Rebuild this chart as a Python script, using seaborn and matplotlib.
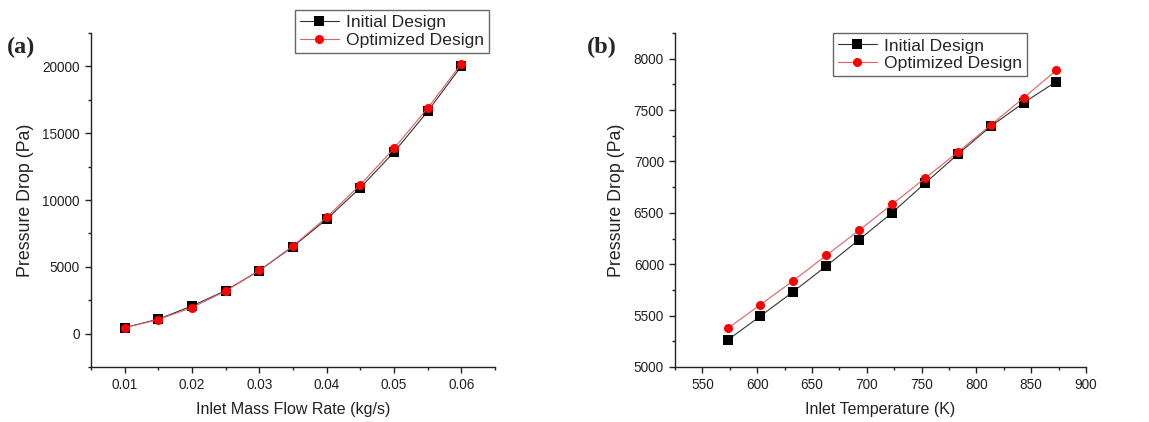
import pandas as pd
import matplotlib
matplotlib.use('Agg')
import matplotlib.pyplot as plt
from matplotlib.ticker import MultipleLocator
import seaborn as sns

# data
mass_flow = [0.010, 0.015, 0.020, 0.025, 0.030, 0.035, 0.040, 0.045, 0.050, 0.055, 0.060]
dp_flow_initial = [450, 1080, 2070, 3220, 4720, 6510, 8570, 10920, 13580, 16630, 20020]
dp_flow_optimized = [440, 1050, 1950, 3180, 4730, 6560, 8710, 11150, 13860, 16880, 20190]

inlet_temp = [573, 603, 633, 663, 693, 723, 753, 783, 813, 843, 873]
dp_temp_initial = [5262, 5496, 5734, 5982, 6239, 6500, 6787, 7070, 7341, 7570, 7778]
dp_temp_optimized = [5375, 5607, 5841, 6086, 6331, 6582, 6836, 7090, 7354, 7618, 7889]

series_names = ['Initial Design', 'Optimized Design']

#build long-form tables
df_flow = pd.DataFrame({
    'x': mass_flow + mass_flow,
    'y': dp_flow_initial + dp_flow_optimized,
    'Design': [series_names[0]] * len(mass_flow) + [series_names[1]] * len(mass_flow),
})
df_temp = pd.DataFrame({
    'x': inlet_temp + inlet_temp,
    'y': dp_temp_initial + dp_temp_optimized,
    'Design': [series_names[0]] * len(inlet_temp) + [series_names[1]] * len(inlet_temp),
})

sns.set_style("ticks")
plt.rcParams['font.family'] = ['Liberation Sans', 'DejaVu Sans']
plt.rcParams['xtick.major.size'] = 4.5
plt.rcParams['ytick.major.size'] = 4.5
plt.rcParams['xtick.minor.size'] = 2.5
plt.rcParams['ytick.minor.size'] = 2.5
plt.rcParams['xtick.minor.visible'] = True
plt.rcParams['ytick.minor.visible'] = True

palette = {'Initial Design': 'black', 'Optimized Design': '#ff0000'}
markers = {'Initial Design': 's', 'Optimized Design': 'o'}
line_colors = {'Initial Design': '#333333', 'Optimized Design': '#e06060'}

fig = plt.figure(figsize=(11.49, 4.22), dpi=100)
ax1 = fig.add_axes([91 / 1149, 55 / 422, 404 / 1149, 334 / 422])
ax2 = fig.add_axes([675 / 1149, 55 / 422, 411 / 1149, 334 / 422])


def draw(ax, df, xlabel, xlim, ylim, xmaj, xmin, ymaj, ymin, leg_anchor, xfmt=None):
    sns.lineplot(data=df, x='x', y='y', hue='Design', style='Design', palette=palette,
                 markers=markers, dashes=False, linewidth=0.8, markersize=6.5,
                 markeredgewidth=0, ax=ax)
    for line, name in zip(ax.lines, series_names):
        line.set_markerfacecolor(palette[name])
        line.set_markeredgecolor(palette[name])
        line.set_color(line_colors[name])
    ax.set_xlim(xlim)
    ax.set_ylim(ylim)
    ax.xaxis.set_major_locator(MultipleLocator(xmaj))
    ax.xaxis.set_minor_locator(MultipleLocator(xmin))
    ax.yaxis.set_major_locator(MultipleLocator(ymaj))
    ax.yaxis.set_minor_locator(MultipleLocator(ymin))
    if xfmt:
        ax.xaxis.set_major_formatter(xfmt)
    ax.set_xlabel(xlabel, fontsize=11.5, color='#222222', labelpad=7)
    ax.set_ylabel('Pressure Drop (Pa)', fontsize=12.8, color='#222222', labelpad=6)
    ax.tick_params(axis='both', which='both', labelsize=9.8, colors='#222222', width=1)
    sns.despine(ax=ax)
    for sp in ['left', 'bottom']:
        ax.spines[sp].set_linewidth(1)
        ax.spines[sp].set_color('#222222')
    handles, labels = ax.get_legend_handles_labels()
    for h, name in zip(handles, series_names):
        h.set_markerfacecolor(palette[name])
        h.set_markeredgecolor(palette[name])
        h.set_color(line_colors[name])
        h.set_linewidth(0.8)
    leg = ax.legend(handles, labels, loc='upper right', bbox_to_anchor=leg_anchor,
                    fontsize=12.6, frameon=True, fancybox=False, framealpha=1,
                    edgecolor='#666666', handlelength=2.2, handletextpad=0.4,
                    borderpad=0.3, labelspacing=0.12, borderaxespad=0)
    leg.get_frame().set_linewidth(1)
    leg.set_clip_on(False)


draw(ax1, df_flow, 'Inlet Mass Flow Rate (kg/s)', (0.005, 0.065), (-2500, 22500),
     0.01, 0.005, 5000, 2500, (0.985, 1.069), xfmt=lambda v, p: f'{v:.2f}')
draw(ax2, df_temp, 'Inlet Temperature (K)', (525, 900), (5000, 8250),
     50, 25, 500, 250, (0.856, 1.0))

fig.text(7 / 1149, 1 - 47 / 422, '(a)', fontsize=17.5, fontweight='bold',
         family=['Liberation Serif', 'DejaVu Serif'], va='center', ha='left')
fig.text(587 / 1149, 1 - 47 / 422, '(b)', fontsize=17.5, fontweight='bold',
         family=['Liberation Serif', 'DejaVu Serif'], va='center', ha='left')

plt.savefig('out.png', dpi=100)
